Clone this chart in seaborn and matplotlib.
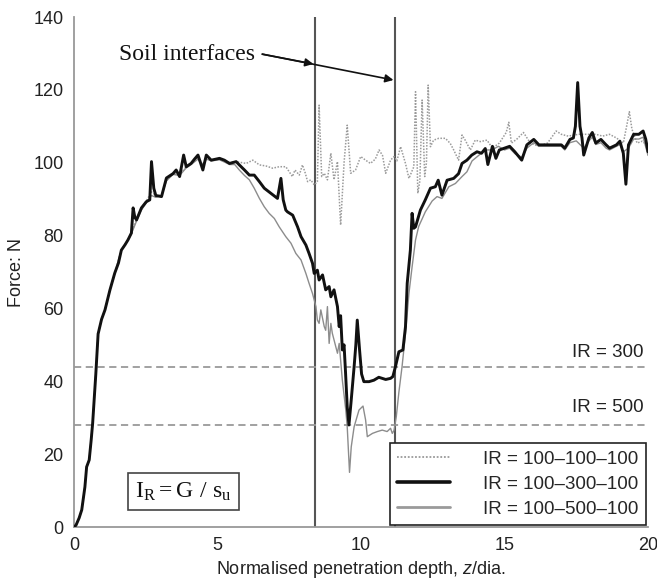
import matplotlib
matplotlib.use("Agg")
import matplotlib.pyplot as plt
from matplotlib.lines import Line2D
import seaborn as sns
import pandas as pd

# Penetration depth (z/dia.) and force (N) for the three stiffness-ratio profiles
ir_100_300_x = [0.0, 0.07, 0.18, 0.27, 0.38, 0.44, 0.53, 0.6, 0.65, 0.76, 0.84, 0.96, 1.08, 1.25,
                1.42, 1.55, 1.65, 1.78, 1.88, 2.0, 2.06, 2.12, 2.18, 2.35, 2.52, 2.64, 2.7, 2.78,
                2.85, 3.05, 3.22, 3.45, 3.56, 3.68, 3.82, 3.91, 4.08, 4.2, 4.32, 4.49, 4.61, 4.78,
                5.07, 5.24, 5.42, 5.65, 5.76, 5.94, 6.11, 6.28, 6.46, 6.63, 6.86, 7.09, 7.21, 7.29,
                7.38, 7.44, 7.62, 7.79, 7.91, 8.08, 8.19, 8.31, 8.37, 8.48, 8.54, 8.66, 8.77, 8.89,
                8.95, 9.06, 9.18, 9.24, 9.29, 9.35, 9.41, 9.46, 9.52, 9.58, 9.65, 9.76, 9.82, 9.87,
                9.95, 10.02, 10.1, 10.28, 10.45, 10.62, 10.86, 11.03, 11.11, 11.2, 11.32, 11.46,
                11.55, 11.61, 11.72, 11.78, 11.84, 11.9, 12.07, 12.24, 12.42, 12.59, 12.69, 12.82,
                13.0, 13.23, 13.4, 13.52, 13.69, 13.86, 14.04, 14.2, 14.33, 14.42, 14.58, 14.7,
                14.82, 15.0, 15.18, 15.36, 15.6, 15.78, 16.02, 16.2, 16.5, 16.98, 17.1, 17.28, 17.4,
                17.47, 17.55, 17.63, 17.7, 17.76, 17.94, 18.06, 18.18, 18.36, 18.54, 18.66, 18.9,
                19.02, 19.14, 19.23, 19.32, 19.5, 19.68, 19.83, 19.92, 20.0]
ir_100_300_f = [0, 0.5, 2.5, 4.7, 11, 16.5, 18.4, 24, 28.5, 42, 53, 57, 59.6, 65,
                69.7, 72.5, 76, 77.5, 78.8, 80.7, 87.6, 85, 84.3, 87.6, 89.3, 89.8, 100.3, 93,
                91, 90.7, 95.8, 97, 98, 96.2, 102.1, 98.9, 99.8, 101, 102.1, 98, 102.1, 100.7,
                101.2, 100.7, 99.8, 100.3, 99.4, 98, 96.6, 96.6, 94.8, 93, 91.6, 90.2, 95.7, 89.8,
                87, 86.5, 85.6, 82.4, 79.7, 77.4, 75.1, 72.4, 69.6, 70.5, 67.8, 69.2, 65.1, 66,
                63.2, 65.1, 60.5, 55, 58, 48.6, 50, 42.6, 33, 28, 34, 44, 50, 56.8,
                48.6, 42, 39.9, 39.9, 40.3, 41.1, 40.5, 40.8, 41.3, 44, 48.1, 48.6,
                55, 66.9, 76, 86.1, 82, 82.4, 87, 89.8, 93, 93.4, 95.2, 91.1,
                95.2, 95.7, 97, 99.8, 100.7, 102.1, 103, 102.6, 103.9, 99.5, 104.5, 101.2,
                103.5, 104, 104.5, 103, 100.7, 104.9, 106.4, 104.9, 104.9, 104.9, 104, 106.4, 106.8,
                110, 122, 110, 106.8, 102.1, 106.8, 108.3, 105.4, 106.4, 104.9, 104, 104.9,
                105.9, 102.6, 94.1, 104.9, 107.8, 107.8, 108.7, 106.5, 103]

ir_100_500_x = [0.0, 0.07, 0.18, 0.27, 0.38, 0.44, 0.53, 0.65, 0.76, 0.84, 0.96, 1.08, 1.25, 1.42,
                1.65, 1.88, 2.0, 2.18, 2.35, 2.52, 2.7, 2.85, 3.05, 3.22, 3.45, 3.68, 3.9, 4.08,
                4.32, 4.49, 4.61, 4.78, 5.07, 5.24, 5.42, 5.6, 5.76, 5.94, 6.11, 6.28, 6.46, 6.63,
                6.8, 6.98, 7.15, 7.38, 7.56, 7.73, 7.91, 8.08, 8.19, 8.31, 8.43, 8.48, 8.54, 8.6,
                8.72, 8.77, 8.83, 8.89, 8.95, 9.0, 9.18, 9.24, 9.35, 9.47, 9.52, 9.6, 9.66, 9.76,
                9.93, 10.07, 10.16, 10.22, 10.4, 10.57, 10.74, 10.91, 11.03, 11.09, 11.15, 11.23,
                11.32, 11.43, 11.55, 11.67, 11.78, 11.9, 12.01, 12.24, 12.48, 12.65, 12.82, 13.06,
                13.29, 13.52, 13.69, 13.87, 14.1, 14.33, 14.56, 14.79, 15.0, 15.18, 15.36, 15.6,
                15.78, 16.02, 16.2, 16.5, 16.98, 17.1, 17.28, 17.5, 17.76, 17.94, 18.06, 18.18,
                18.36, 18.54, 18.66, 18.9, 19.02, 19.14, 19.32, 19.5, 19.68, 19.83, 20.0]
ir_100_500_f = [0, 0.5, 2.5, 4.7, 11, 16.5, 18.4, 28.5, 42, 53, 57, 59.6, 65, 69.7,
                76, 78.8, 80.5, 84, 87, 89, 91, 90.5, 91, 95, 96.8, 96.5, 98.5, 99.5,
                101, 99, 101, 100.5, 100.8, 100.2, 99.5, 99.5, 98, 96.5, 95.3, 93, 90.2, 87.9,
                86.1, 84.7, 82.4, 79.7, 77.9, 75.1, 73.3, 69.6, 66.9, 64.1, 60.5, 56.8, 55.9, 59.6,
                55, 54, 60.5, 50.4, 55.9, 53.2, 47.7, 50.4, 40.3, 32.1, 27.5, 15, 22, 27.5,
                32.1, 33.2, 29.4, 24.8, 25.7, 26.2, 26.6, 26.2, 27.1, 25.7, 26.5, 30.3,
                37, 44, 53, 64.1, 71.4, 78.8, 82.5, 86.5, 89.5, 90.7, 90.2, 93.4,
                94.3, 96.2, 97.5, 100.5, 102, 103.5, 103.5, 104.5, 103.5, 104, 102.5, 101.5,
                104, 105.5, 104.5, 104.5, 104.5, 103.5, 105.5, 106, 104, 106, 107, 105,
                105.5, 104, 103.5, 104.5, 105, 103, 104, 106.5, 106.5, 107, 102]

ir_100_100_x = [0.0, 0.07, 0.18, 0.27, 0.38, 0.44, 0.53, 0.65, 0.76, 0.84, 0.96, 1.08, 1.25, 1.42,
                1.65, 1.88, 2.0, 2.18, 2.35, 2.52, 2.7, 2.85, 3.05, 3.22, 3.45, 3.68, 3.9, 4.08,
                4.32, 4.49, 4.61, 4.78, 5.07, 5.24, 5.42, 5.65, 6.0, 6.23, 6.46, 6.69, 6.92, 7.15,
                7.38, 7.5, 7.61, 7.7, 7.85, 7.96, 8.06, 8.14, 8.25, 8.37, 8.48, 8.54, 8.63, 8.72,
                8.83, 8.95, 9.06, 9.18, 9.29, 9.41, 9.52, 9.64, 9.81, 9.99, 10.16, 10.33, 10.5,
                10.63, 10.75, 10.86, 11.03, 11.15, 11.25, 11.38, 11.55, 11.67, 11.84, 11.9, 11.98,
                12.05, 12.13, 12.22, 12.28, 12.34, 12.42, 12.53, 12.71, 12.94, 13.11, 13.23, 13.4,
                13.52, 13.63, 13.81, 13.98, 14.16, 14.39, 14.58, 14.82, 15.06, 15.15, 15.24, 15.42,
                15.66, 15.9, 16.2, 16.5, 16.8, 16.98, 17.22, 17.58, 17.82, 18.18, 18.42, 18.66,
                18.9, 19.14, 19.26, 19.35, 19.44, 19.62, 19.8, 20.0]
ir_100_100_f = [0, 0.5, 2.5, 4.7, 11, 16.5, 18.4, 28.5, 42, 53, 57, 59.6, 65, 69.7,
                76, 78.8, 80.8, 84.5, 87.5, 89.5, 92, 91, 91, 95.5, 97, 96.8, 98.8, 99.8,
                101.5, 99.5, 101.5, 100.8, 101, 100.5, 100, 100.3, 99.8, 100.7, 99.4, 99.1, 98.5, 98.9,
                98.9, 97.5, 96.2, 98, 96.6, 99.4, 97.1, 94.8, 95.3, 93.9, 94.8, 115.8, 96.2, 97.1,
                95.3, 102.6, 95.3, 100.3, 82.9, 100, 110.3, 97.1, 98, 101.7, 100.7, 99.8, 101,
                103.5, 102, 97.1, 100.7, 101.7, 100.5, 104.4, 99.8, 95.7, 98.9, 119.5, 91.6,
                95, 117.2, 96.2, 100, 121.3, 104.4, 106.2, 106.7, 106.7, 105.3, 103.5, 100.7,
                107.6, 106.2, 103.5, 106.2, 105.8, 106.2, 104, 105.4, 108.3, 111.1, 105.4, 106.4,
                108.3, 105.4, 104.5, 105.4, 108.7, 107.8, 107.3, 107.8, 107.8, 107.8, 107.3, 107.8,
                106.8, 105.4, 110.2, 114, 109.2, 105.4, 105.9, 104.5]

series_labels = ["IR = 100\u2013100\u2013100", "IR = 100\u2013300\u2013100", "IR = 100\u2013500\u2013100"]
interface_depths = [8.4, 11.2]
reference_levels = [44, 28]
reference_labels = ["IR = 300", "IR = 500"]
x_ticks = [0, 5, 10, 15, 20]
y_ticks = [0, 20, 40, 60, 80, 100, 120, 140]

sns.set_style("white")
plt.rcParams["font.family"] = ["Liberation Sans", "DejaVu Sans"]
plt.rcParams["mathtext.fontset"] = "custom"
plt.rcParams["mathtext.it"] = "Liberation Sans:italic"
plt.rcParams["mathtext.rm"] = "Liberation Sans"

fig = plt.figure(figsize=(6.57, 5.86), dpi=100)
ax = fig.add_axes([74 / 657, 59 / 586, 574 / 657, 510 / 586])

df100 = pd.DataFrame({"z": ir_100_100_x, "F": ir_100_100_f})
df500 = pd.DataFrame({"z": ir_100_500_x, "F": ir_100_500_f})
df300 = pd.DataFrame({"z": ir_100_300_x, "F": ir_100_300_f})

sns.lineplot(data=df100, x="z", y="F", ax=ax, estimator=None, sort=False,
             color="#9a9a9a", lw=1.1, linestyle=(0, (1, 1)), zorder=3)
sns.lineplot(data=df500, x="z", y="F", ax=ax, estimator=None, sort=False,
             color="#8c8c8c", lw=1.0, zorder=4)
sns.lineplot(data=df300, x="z", y="F", ax=ax, estimator=None, sort=False,
             color="#111111", lw=2.1, zorder=5)

# interface markers and reference levels
for zd in interface_depths:
    ax.axvline(zd, color="#555555", lw=1.5, zorder=2)
for lvl in reference_levels:
    ax.axhline(lvl, color="#9a9a9a", lw=1.3, linestyle=(0, (4, 2.5)), zorder=2)
ax.text(19.85, 48.0, reference_labels[0], ha="right", va="center", fontsize=13.5, color="#222222")
ax.text(19.85, 32.7, reference_labels[1], ha="right", va="center", fontsize=13.5, color="#222222")

# soil interface annotation
ax.text(1.57, 129.6, "Soil interfaces", family=["Liberation Serif", "DejaVu Serif"],
        fontsize=17, ha="left", va="center", color="#111111")
for tip in [(8.34, 127.1), (11.13, 122.7)]:
    ax.annotate("", xy=tip, xytext=(6.56, 129.8),
                arrowprops=dict(arrowstyle="-|>", color="#111111", lw=1.2,
                                mutation_scale=12, shrinkA=0, shrinkB=0))

ax.text(3.8, 9.7, r"$\mathregular{I_R = G\ /\ s_u}$", family=["Liberation Serif", "DejaVu Serif"],
        fontsize=17, ha="center", va="center", color="#111111",
        bbox=dict(boxstyle="square,pad=0.3", fc="white", ec="#444444", lw=1.2))

ax.set_xlim(0, 20)
ax.set_ylim(0, 140)
ax.set_xticks(x_ticks)
ax.set_yticks(y_ticks)
ax.tick_params(axis="both", labelsize=13, colors="#222222", length=4, width=1, direction="out")
ax.tick_params(axis="both", color="#999999")
for side in ["top", "right"]:
    ax.spines[side].set_visible(False)
for side in ["left", "bottom"]:
    ax.spines[side].set_color("#999999")
    ax.spines[side].set_linewidth(1.3)
ax.set_xlabel(r"Normalised penetration depth, $z$/dia.", fontsize=13, color="#222222", labelpad=3)
ax.set_ylabel("Force: N", fontsize=13, color="#222222", labelpad=6)

handles = [Line2D([], [], color="#9a9a9a", lw=1.3, linestyle=(0, (1, 1))),
           Line2D([], [], color="#111111", lw=2.6),
           Line2D([], [], color="#9a9a9a", lw=2.0)]
leg = ax.legend(handles, series_labels, loc="lower right", bbox_to_anchor=(0.997, 0.003),
                borderaxespad=0, fontsize=13.5, frameon=True, fancybox=False, framealpha=1,
                edgecolor="#222222", handlelength=2.8, handletextpad=1.8, labelspacing=0.42,
                borderpad=0.4)
leg.get_frame().set_linewidth(1.2)
leg.set_zorder(10)

fig.savefig("out.png", dpi=100)
